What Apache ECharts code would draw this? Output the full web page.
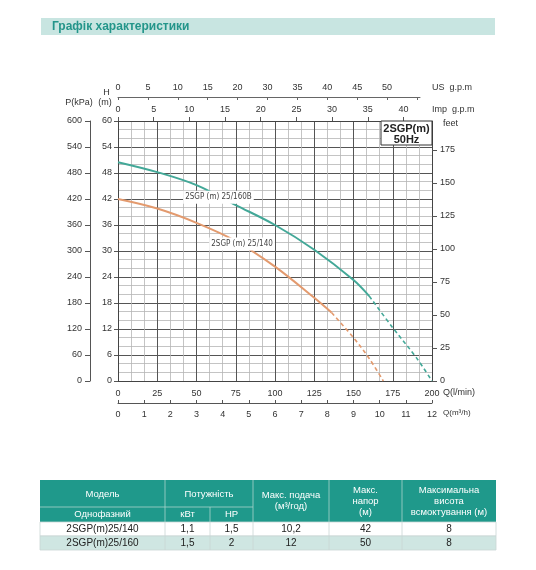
<!DOCTYPE html>
<html>
<head>
<meta charset="utf-8">
<script src="https://cdn.jsdelivr.net/npm/echarts@6/dist/echarts.min.js"></script>
<style>
html,body{margin:0;padding:0;background:#fff;}
#c{width:536px;height:570px;}
</style>
</head>
<body>
<div id="c"></div>
<script>
// ---- data ----
const tealName = '2SGP (m) 25/160B';
const tealQ = [0, 25, 50, 75, 100, 125, 150, 160];
const tealH = [50.5, 48.2, 45.2, 40.6, 36.0, 30.3, 23.3, 19.6];
const tealDashQ = [160, 175, 190, 200];
const tealDashH = [19.6, 12.3, 5.4, 0];

const orangeName = '2SGP (m) 25/140';
const orangeQ = [0, 25, 50, 75, 100, 125, 136];
const orangeH = [42.0, 39.8, 36.5, 32.3, 26.4, 19.2, 15.8];
const orangeDashQ = [136, 150, 160, 169];
const orangeDashH = [15.8, 10.0, 5.2, 0];

const usLabels = ['0', '5', '10', '15', '20', '30', '35', '40', '45', '50'];
const usTicks = [0, 5, 10, 15, 20, 25, 30, 35, 40, 45, 50];
const impTicks = [0, 5, 10, 15, 20, 25, 30, 35, 40];
const feetTicks = [0, 25, 50, 75, 100, 125, 150, 175];

const tableHeadTop = ['Модель', 'Потужність'];
const tableHeadSub = ['Однофазний', 'кВт', 'HP'];
const tableHeadRight = [['Макс. подача', '(м³/год)'], ['Макс.', 'напор', '(м)'], ['Максимальна', 'висота', 'всмоктування (м)']];
const tableRows = [
  ['2SGP(m)25/140', '1,1', '1,5', '10,2', '42', '8'],
  ['2SGP(m)25/160', '1,5', '2', '12', '50', '8']
];

// ---- chart ----
const pairs = (xs, ys) => xs.map((x, i) => [x, ys[i]]);
const FONT = 'Liberation Sans, Arial, sans-serif';
const TEAL = '#43a898';
const ORANGE = '#e39a6e';
const lab = {fontSize: 9, color: '#333', fontFamily: FONT};

const chart = echarts.init(document.getElementById('c'), null, {renderer: 'canvas'});

// table geometry
const colX = [40, 165, 210, 253, 329, 402, 496];
const tTop = 480, tHeadMid = 507, tHeadBot = 522, rowH = 14;
const HEAD = '#1f998b';
const g = [];
// title band
g.push({type: 'rect', shape: {x: 41, y: 18, width: 454, height: 17}, style: {fill: '#c8e5e1'}});
g.push({type: 'text', style: {x: 52, y: 26.7, text: 'Графік характеристики', fill: '#23958a', font: 'bold 12px ' + FONT, verticalAlign: 'middle'}});
// axis names
const nameText = (x, y, t, align) => g.push({type: 'text', z: 10, style: {x, y, text: t, fill: '#333', font: '9px ' + FONT, align: align || 'left', verticalAlign: 'middle'}});
nameText(106.5, 93, 'H', 'center');
nameText(105, 103, '(m)', 'center');
nameText(79, 103, 'P(kPa)', 'center');
nameText(432, 87.5, 'US  g.p.m');
nameText(432, 109.3, 'Imp  g.p.m');
nameText(443, 123.5, 'feet');
nameText(443, 392.5, 'Q(l/min)');
g.push({type: 'text', z: 10, style: {x: 443, y: 413, text: 'Q(m³/h)', fill: '#333', font: '8px ' + FONT, verticalAlign: 'middle'}});
// model box
g.push({type: 'rect', z: 10, shape: {x: 381, y: 121, width: 51, height: 24}, style: {fill: '#fff', stroke: '#333', lineWidth: 1}});
g.push({type: 'text', z: 11, style: {x: 406.5, y: 128.5, text: '2SGP(m)', fill: '#222', font: 'bold 11px ' + FONT, align: 'center', verticalAlign: 'middle'}});
g.push({type: 'text', z: 11, style: {x: 406.5, y: 139.5, text: '50Hz', fill: '#222', font: 'bold 11px ' + FONT, align: 'center', verticalAlign: 'middle'}});
// table
g.push({type: 'rect', shape: {x: colX[0], y: tTop, width: colX[6] - colX[0], height: tHeadBot - tTop}, style: {fill: HEAD}});
g.push({type: 'rect', shape: {x: colX[0], y: tHeadBot, width: colX[6] - colX[0], height: rowH}, style: {fill: '#ffffff', stroke: '#c9d6d4', lineWidth: 0.8}});
g.push({type: 'rect', shape: {x: colX[0], y: tHeadBot + rowH, width: colX[6] - colX[0], height: rowH}, style: {fill: '#cfe6e2', stroke: '#c9d6d4', lineWidth: 0.8}});
const vline = (x, y1, y2, c) => g.push({type: 'line', shape: {x1: x, y1: y1, x2: x, y2: y2}, style: {stroke: c, lineWidth: 0.8}});
[1, 3, 4, 5].forEach(i => vline(colX[i], tTop, tHeadBot, '#a9d3cc'));
vline(colX[2], tHeadMid, tHeadBot, '#a9d3cc');
[1, 2, 3, 4, 5].forEach(i => vline(colX[i], tHeadBot, tHeadBot + 2 * rowH, '#c9d6d4'));
g.push({type: 'line', shape: {x1: colX[0], y1: tHeadMid, x2: colX[3], y2: tHeadMid}, style: {stroke: '#a9d3cc', lineWidth: 0.8}});
const cellText = (x, y, t, fill, size) => g.push({type: 'text', style: {x, y, text: t, fill, font: (size || 9.5) + 'px ' + FONT, align: 'center', verticalAlign: 'middle'}});
const mid = (a, b) => (colX[a] + colX[b]) / 2;
cellText(mid(0, 1), 494, tableHeadTop[0], '#fff');
cellText(mid(1, 3), 494, tableHeadTop[1], '#fff');
cellText(mid(0, 1), 514.5, tableHeadSub[0], '#fff');
cellText(mid(1, 2), 514.5, tableHeadSub[1], '#fff');
cellText(mid(2, 3), 514.5, tableHeadSub[2], '#fff');
const rightY = [[495, 506], [490, 501, 512.5], [490, 501, 512.5]];
tableHeadRight.forEach((lines, k) => lines.forEach((t, j) => cellText(mid(3 + k, 4 + k), rightY[k][j], t, '#fff')));
tableRows.forEach((row, r) => row.forEach((t, c) => cellText(mid(c, c + 1), tHeadBot + rowH * r + rowH / 2 + 0.5, t, '#222', 10)));

const curveLabel = (text, q, h) => ({
  symbol: 'rect', symbolSize: 0,
  data: [{coord: [q, h], value: text}],
  label: {show: true, formatter: text, position: 'inside', fontSize: 8, color: '#444', fontFamily: 'DejaVu Sans Condensed, ' + FONT,
          backgroundColor: '#fff', padding: [3, 2, 2, 2]}
});

const option = {
  animation: false,
  backgroundColor: '#fff',
  grid: [
    {left: 118, top: 121, width: 314, height: 260},
    {left: 118, top: 97, width: 302, height: 1}
  ],
  xAxis: [
    {gridIndex: 0, type: 'value', position: 'bottom', min: 0, max: 200, interval: 25,
     axisLine: {show: true, onZero: false, lineStyle: {color: '#444'}}, axisTick: {show: false},
     axisLabel: Object.assign({margin: 8}, lab),
     splitLine: {show: true, lineStyle: {color: '#555', width: 1}},
     minorTick: {show: false, splitNumber: 3},
     minorSplitLine: {show: true, lineStyle: {color: '#b5b5b5', width: 0.8}}},
    {gridIndex: 0, type: 'value', position: 'bottom', offset: 22, min: 0, max: 12, interval: 1,
     axisLine: {show: true, onZero: false, lineStyle: {color: '#555'}},
     axisTick: {show: true, inside: true, length: 3, lineStyle: {color: '#555'}},
     axisLabel: Object.assign({margin: 7}, lab), splitLine: {show: false}},
    {gridIndex: 0, type: 'value', position: 'top', min: 0, max: 200 / 4.54609,
     axisLine: {show: true, onZero: false, lineStyle: {color: '#444'}},
     axisTick: {show: true, length: 4, customValues: impTicks, lineStyle: {color: '#555'}},
     axisLabel: Object.assign({margin: 7, customValues: impTicks}, lab), splitLine: {show: false}},
    {gridIndex: 1, type: 'value', position: 'top', min: 0, max: 50.5,
     axisLine: {show: true, onZero: false, lineStyle: {color: '#666'}},
     axisTick: {show: true, inside: true, length: 3, customValues: usTicks, lineStyle: {color: '#666'}},
     axisLabel: Object.assign({margin: 5, customValues: usTicks, formatter: v => usLabels[Math.round(v / 5)] || ''}, lab),
     splitLine: {show: false}}
  ],
  yAxis: [
    {gridIndex: 0, type: 'value', min: 0, max: 60, interval: 6, position: 'left',
     axisLine: {show: true, onZero: false, lineStyle: {color: '#444'}},
     axisTick: {show: true, length: 4, lineStyle: {color: '#555'}},
     axisLabel: Object.assign({margin: 6}, lab),
     splitLine: {show: true, lineStyle: {color: '#555', width: 1}},
     minorTick: {show: false, splitNumber: 3},
     minorSplitLine: {show: true, lineStyle: {color: '#b5b5b5', width: 0.8}}},
    {gridIndex: 0, type: 'value', min: 0, max: 600, interval: 60, position: 'left', offset: 28,
     axisLine: {show: true, onZero: false, lineStyle: {color: '#555'}},
     axisTick: {show: true, length: 5, lineStyle: {color: '#555'}},
     axisLabel: Object.assign({margin: 8}, lab), splitLine: {show: false}},
    {gridIndex: 0, type: 'value', min: 0, max: 60 * 3.28084, position: 'right',
     axisLine: {show: true, onZero: false, lineStyle: {color: '#444'}},
     axisTick: {show: true, length: 5, customValues: feetTicks, lineStyle: {color: '#555'}},
     axisLabel: Object.assign({margin: 8, customValues: feetTicks}, lab), splitLine: {show: false}},
    {gridIndex: 1, type: 'value', show: false}
  ],
  series: [
    {type: 'line', name: tealName, xAxisIndex: 0, yAxisIndex: 0, data: pairs(tealQ, tealH), smooth: 0.35, showSymbol: false,
     lineStyle: {color: TEAL, width: 2}, z: 3, markPoint: curveLabel(tealName, 64, 42.4)},
    {type: 'line', xAxisIndex: 0, yAxisIndex: 0, data: pairs(tealDashQ, tealDashH), smooth: 0.35, showSymbol: false,
     lineStyle: {color: TEAL, width: 1.6, type: [4, 3]}, z: 3},
    {type: 'line', name: orangeName, xAxisIndex: 0, yAxisIndex: 0, data: pairs(orangeQ, orangeH), smooth: 0.35, showSymbol: false,
     lineStyle: {color: ORANGE, width: 2}, z: 3, markPoint: curveLabel(orangeName, 79, 31.6)},
    {type: 'line', xAxisIndex: 0, yAxisIndex: 0, data: pairs(orangeDashQ, orangeDashH), smooth: 0.35, showSymbol: false,
     lineStyle: {color: ORANGE, width: 1.6, type: [4, 3]}, z: 3}
  ],
  graphic: g
};
chart.setOption(option);
</script>
</body>
</html>
